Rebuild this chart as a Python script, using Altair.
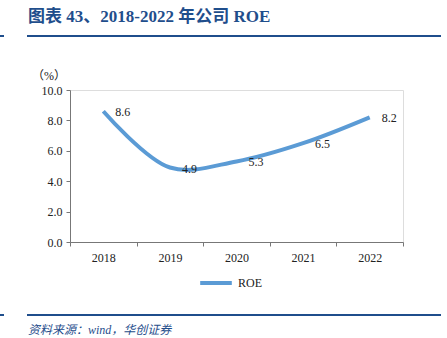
import altair as alt
import pandas as pd

years = ["2018", "2019", "2020", "2021", "2022"]
roe = [8.6, 4.9, 5.3, 6.5, 8.2]
series = ["ROE"] * 5

df = pd.DataFrame({"year": years, "roe": roe, "series": series})

W, H = 333, 152
PL, PT = 70, 90
BLUE = "#1F4E8C"
LINE = "#5B9BD5"
SERIF = "Liberation Serif"
MIX = "'Liberation Serif', 'Noto Sans CJK SC', serif"

x = alt.X("year:O", scale=alt.Scale(type="band", paddingInner=0, paddingOuter=0),
          axis=alt.Axis(title=None, tickBand="extent", labelFont=SERIF, labelFontSize=12,
                        labelColor="#222", labelPadding=6, tickSize=4, domainColor="#777",
                        tickColor="#777", labelAngle=0))
y = alt.Y("roe:Q", scale=alt.Scale(domain=[0, 10]),
          axis=alt.Axis(title=None, values=[0, 2, 4, 6, 8, 10], format=".1f", grid=False,
                        labelFont=SERIF, labelFontSize=12, labelColor="#222", tickSize=4,
                        domainColor="#777", tickColor="#777", labelPadding=4))

base = alt.Chart(df)

line = base.mark_line(strokeWidth=4, interpolate="catmull-rom").encode(
    x=x, y=y,
    color=alt.Color("series:N", scale=alt.Scale(range=[LINE]),
                    legend=alt.Legend(orient="none", legendX=128, legendY=175, title=None,
                                      symbolType="stroke", symbolStrokeWidth=4, symbolSize=1000,
                                      labelFont=SERIF, labelFontSize=12, labelColor="#222",
                                      symbolOffset=0)),
)

labels = base.mark_text(align="left", dx=12, dy=1, font=SERIF, fontSize=12, color="#222").encode(
    x=x, y=y, text=alt.Text("roe:Q", format=".1f"))

unit = alt.Chart(pd.DataFrame({"t": ["（%）"]})).mark_text(
    font=MIX, fontSize=12, color="#222").encode(
    x=alt.value(-21), y=alt.value(-14), text="t:N")

title = alt.Chart(pd.DataFrame({"t": ["图表 43、2018-2022 年公司 ROE"]})).mark_text(
    font=MIX, fontSize=17, fontWeight="bold", color=BLUE, align="left", baseline="middle").encode(
    x=alt.value(28 - PL), y=alt.value(17 - PT), text="t:N")

src = alt.Chart(pd.DataFrame({"t": ["资料来源：wind，华创证券"]})).mark_text(
    font=MIX, fontSize=12, fontStyle="italic", color=BLUE, align="left", baseline="middle").encode(
    x=alt.value(28 - PL), y=alt.value(330 - PT), text="t:N")

rule_df = pd.DataFrame({"k": [0]})
def hline(x1, x2, yy, w=2):
    return alt.Chart(rule_df).mark_rule(color=BLUE, strokeWidth=w).encode(
        x=alt.value(x1 - PL), x2=alt.value(x2 - PL), y=alt.value(yy - PT))

rules = hline(27, 441, 36) + hline(0, 4, 36) + hline(27, 441, 315) + hline(0, 4, 315)

chart = alt.layer(line, labels, unit, title, src, rules).properties(
    width=W, height=H,
    padding={"left": PL, "top": PT, "right": 447 - PL - W, "bottom": 338 - PT - H},
    autosize=alt.AutoSizeParams(type="none"),
).configure_view(stroke=None).configure(background="white")

chart.save("out.html", embed_options={"renderer": "svg", "actions": False})
